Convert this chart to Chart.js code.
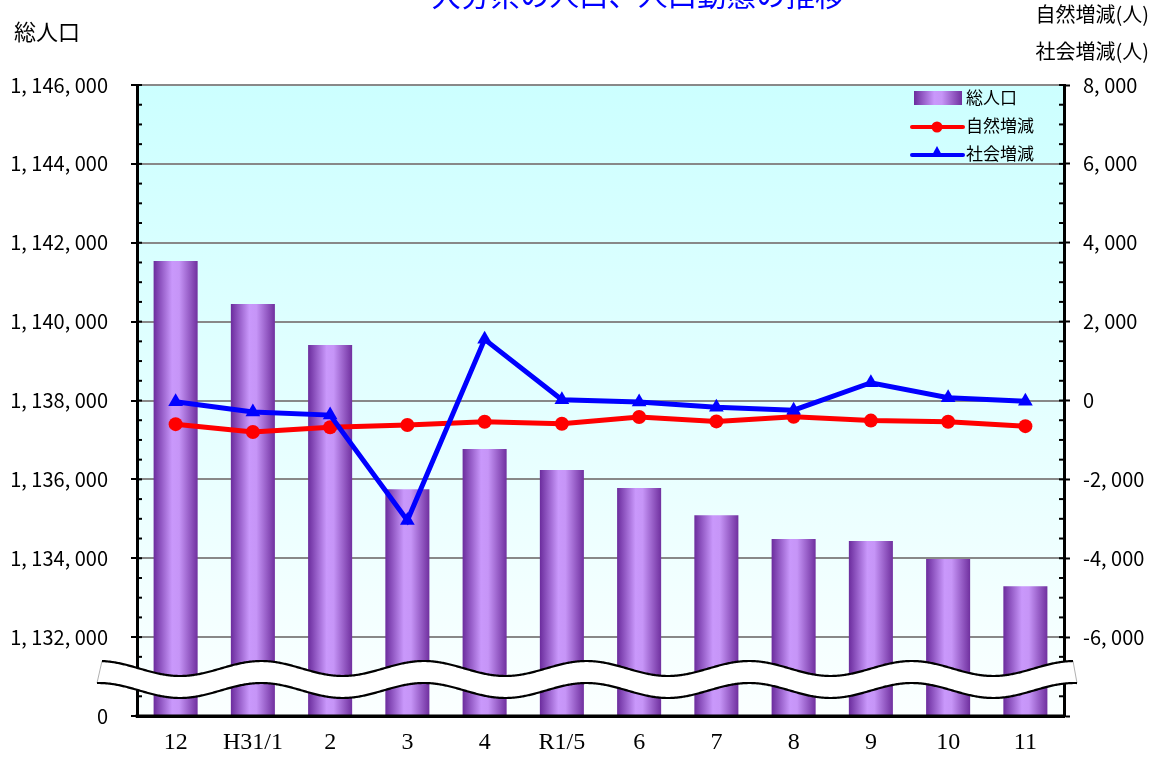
<!DOCTYPE html>
<html><head><meta charset="utf-8">
<script src="https://cdn.jsdelivr.net/npm/chart.js@4.4.1/dist/chart.umd.min.js"></script>
<style>html,body{margin:0;padding:0;background:#fff;overflow:hidden}canvas{display:block}</style>
</head><body>
<canvas id="c" width="1158" height="767"></canvas>
<script>
// ---- data ----
const categories = ['12','H31/1','2','3','4','R1/5','6','7','8','9','10','11'];
const totalPopulation = [1141540, 1140450, 1139410, 1135750, 1136770, 1136240, 1135780, 1135090, 1134490, 1134440, 1133980, 1133290];
const naturalChange = [-600, -800, -680, -620, -540, -590, -420, -530, -415, -510, -540, -650];
const socialChange = [-30, -290, -370, -3040, 1550, 20, -40, -170, -245, 450, 70, -20];
const seriesNames = ['総人口', '自然増減', '社会増減'];
const popTickValues = [1130000, 1132000, 1134000, 1136000, 1138000, 1140000, 1142000, 1144000, 1146000];
const popTickLabels = ['0', '1, 132, 000', '1, 134, 000', '1, 136, 000', '1, 138, 000', '1, 140, 000', '1, 142, 000', '1, 144, 000', '1, 146, 000'];
const changeTickValues = [-8000, -6000, -4000, -2000, 0, 2000, 4000, 6000, 8000];
const changeTickLabels = ['', '-6, 000', '-4, 000', '-2, 000', '0', '2, 000', '4, 000', '6, 000', '8, 000'];
const titleText = '大分県の人口、人口動態の推移';
const leftAxisTitle = '総人口';
const rightAxisTitles = ['自然増減(人)', '社会増減(人)'];

const JP = '"Noto Sans CJK JP", "Noto Sans", sans-serif';
const BAR_PCT = 0.57;

function barGradient(ctx, x0, x1) {
  const g = ctx.createLinearGradient(x0, 0, x1, 0);
  g.addColorStop(0, '#6b2c9d');
  g.addColorStop(0.42, '#c998fb');
  g.addColorStop(0.58, '#c695f7');
  g.addColorStop(1, '#70309f');
  return g;
}

const isMajor = (v) => Math.abs(v % 2000) < 1e-6;

const decor = {
  id: 'decor',
  beforeDraw(chart) {
    const {ctx, chartArea: a} = chart;
    const g = ctx.createLinearGradient(0, a.top, 0, a.bottom);
    g.addColorStop(0, '#ccffff');
    g.addColorStop(1, '#fbffff');
    ctx.save();
    ctx.fillStyle = g;
    ctx.fillRect(a.left, a.top, a.right - a.left, a.bottom - a.top);
    ctx.restore();
  },
  beforeDatasetsDraw(chart) {
    const {ctx, chartArea: a, scales} = chart;
    ctx.save();
    ctx.strokeStyle = '#000';
    ctx.lineWidth = 2;
    for (const t of scales.y.ticks) {
      const py = scales.y.getPixelForValue(t.value);
      ctx.beginPath(); ctx.moveTo(a.left, py); ctx.lineTo(a.left + 5, py); ctx.stroke();
    }
    for (const t of scales.y2.ticks) {
      const py = scales.y2.getPixelForValue(t.value);
      ctx.beginPath(); ctx.moveTo(a.right - 5, py); ctx.lineTo(a.right, py); ctx.stroke();
    }
    ctx.restore();
  },
  afterDatasetsDraw(chart) {
    const {ctx, chartArea: a} = chart;
    ctx.save();
    // bottom axis over bars
    ctx.strokeStyle = '#000';
    ctx.lineWidth = 3;
    ctx.beginPath(); ctx.moveTo(a.left - 1.5, a.bottom); ctx.lineTo(a.right + 1.5, a.bottom); ctx.stroke();
    // axis break band
    const up = a.bottom - 47.5, lo = a.bottom - 25.5, A = 7.5;
    const P = (a.right - a.left) / 5.7, ph = a.left + 43;
    const f = (x, c) => c + A * Math.cos(2 * Math.PI * (x - ph) / P);
    const ux0 = a.left - 35, ux1 = a.right + 9, lx0 = a.left - 40, lx1 = a.right + 13;
    ctx.beginPath();
    ctx.moveTo(ux0, f(ux0, up));
    for (let x = ux0; x <= ux1; x += 1) ctx.lineTo(x, f(x, up));
    ctx.lineTo(ux1, f(ux1, up));
    ctx.lineTo(lx1, f(lx1, lo));
    for (let x = lx1; x >= lx0; x -= 1) ctx.lineTo(x, f(x, lo));
    ctx.lineTo(lx0, f(lx0, lo));
    ctx.closePath();
    ctx.fillStyle = '#fff';
    ctx.fill();
    ctx.strokeStyle = '#b0b0b0'; ctx.lineWidth = 1;
    ctx.beginPath(); ctx.moveTo(ux0, f(ux0, up)); ctx.lineTo(lx0, f(lx0, lo)); ctx.stroke();
    ctx.beginPath(); ctx.moveTo(ux1, f(ux1, up)); ctx.lineTo(lx1, f(lx1, lo)); ctx.stroke();
    ctx.strokeStyle = '#000'; ctx.lineWidth = 2.2;
    ctx.beginPath();
    for (let x = ux0; x <= ux1; x += 1) { const y = f(x, up); x === ux0 ? ctx.moveTo(x, y) : ctx.lineTo(x, y); }
    ctx.stroke();
    ctx.beginPath();
    for (let x = lx0; x <= lx1; x += 1) { const y = f(x, lo); x === lx0 ? ctx.moveTo(x, y) : ctx.lineTo(x, y); }
    ctx.stroke();
    ctx.restore();
  },
  afterDraw(chart) {
    const {ctx, chartArea: a} = chart;
    ctx.save();
    // title (partially off the top)
    ctx.fillStyle = '#0000ff';
    ctx.font = '29.5px ' + JP;
    ctx.textAlign = 'center';
    ctx.textBaseline = 'middle';
    ctx.fillText(titleText, 638, -5);
    // axis titles
    ctx.fillStyle = '#000';
    ctx.font = '22px ' + JP;
    ctx.textAlign = 'left';
    ctx.fillText(leftAxisTitle, 14, 32);
    ctx.font = '20px ' + JP;
    ctx.textAlign = 'right';
    ctx.fillText(rightAxisTitles[0], 1149, 14);
    ctx.fillText(rightAxisTitles[1], 1149, 51);
    // legend
    const ds = chart.data.datasets;
    const lx = a.right - 152, tx = a.right - 98;
    ctx.fillStyle = barGradient(ctx, lx + 2, lx + 50);
    ctx.fillRect(lx + 2, 91, 48, 14);
    ctx.lineCap = 'round';
    ctx.lineWidth = 4;
    ctx.strokeStyle = '#ff0000';
    ctx.beginPath(); ctx.moveTo(lx, 127); ctx.lineTo(lx + 51, 127); ctx.stroke();
    ctx.fillStyle = '#ff0000';
    ctx.beginPath(); ctx.arc(lx + 25, 127, 5.5, 0, Math.PI * 2); ctx.fill();
    ctx.strokeStyle = '#0000ff';
    ctx.beginPath(); ctx.moveTo(lx, 155); ctx.lineTo(lx + 51, 155); ctx.stroke();
    ctx.fillStyle = '#0000ff';
    ctx.beginPath(); ctx.moveTo(lx + 25, 146); ctx.lineTo(lx + 31, 157); ctx.lineTo(lx + 19, 157); ctx.closePath(); ctx.fill();
    ctx.fillStyle = '#000';
    ctx.font = '17px ' + JP;
    ctx.textAlign = 'left';
    ctx.textBaseline = 'middle';
    ctx.fillText(ds[0].label, tx, 98);
    ctx.fillText(ds[1].label, tx, 126);
    ctx.fillText(ds[2].label, tx, 154);
    ctx.restore();
  }
};

const chart = new Chart(document.getElementById('c'), {
  data: {
    labels: categories,
    datasets: [
      {
        type: 'bar', label: seriesNames[0], data: totalPopulation, yAxisID: 'y', order: 3,
        barPercentage: BAR_PCT, categoryPercentage: 1,
        backgroundColor: (c) => {
          const ch = c.chart, xs = ch.scales && ch.scales.x;
          if (!ch.chartArea || !xs || c.dataIndex === undefined) return '#a066d8';
          const cx = xs.getPixelForValue(c.dataIndex);
          const w = (xs.width / categories.length) * BAR_PCT;
          return barGradient(ch.ctx, cx - w / 2, cx + w / 2);
        },
        borderWidth: 0
      },
      {
        type: 'line', label: seriesNames[1], data: naturalChange, yAxisID: 'y2', order: 2,
        borderColor: '#ff0000', backgroundColor: '#ff0000', borderWidth: 5,
        pointStyle: 'circle', pointRadius: 7, pointBorderWidth: 0, tension: 0
      },
      {
        type: 'line', label: seriesNames[2], data: socialChange, yAxisID: 'y2', order: 1,
        borderColor: '#0000ff', backgroundColor: '#0000ff', borderWidth: 5,
        pointStyle: 'triangle', pointRadius: 8.5, pointBorderWidth: 0, tension: 0
      }
    ]
  },
  options: {
    responsive: false,
    devicePixelRatio: 1,
    animation: false,
    events: [],
    layout: { padding: { top: 85, left: 0, right: 0, bottom: 0 } },
    plugins: { legend: { display: false }, title: { display: false }, tooltip: { enabled: false } },
    scales: {
      x: {
        grid: { display: false, drawTicks: false },
        border: { color: '#000', width: 3 },
        ticks: { font: { family: '"Liberation Serif", serif', size: 24 }, color: '#000', padding: 12, maxRotation: 0, autoSkip: false },
        afterFit: (s) => { s.height = 51; }
      },
      y: {
        position: 'left', min: 1130000, max: 1146000,
        ticks: {
          stepSize: 500, maxTicksLimit: 100, autoSkip: false, padding: 23, color: '#000',
          font: { family: JP, size: 20 },
          callback: (v) => { const i = popTickValues.indexOf(v); return i >= 0 ? popTickLabels[i] : ''; }
        },
        grid: {
          color: (c) => (c.tick && isMajor(c.tick.value) && c.tick.value !== 1130000) ? '#888888' : 'rgba(0,0,0,0)',
          lineWidth: 2,
          tickColor: (c) => (c.tick && isMajor(c.tick.value)) ? '#000' : 'rgba(0,0,0,0)',
          tickLength: 6, tickWidth: 2
        },
        border: { color: '#000', width: 3 },
        afterFit: (s) => { s.width = 137; }
      },
      y2: {
        position: 'right', min: -8000, max: 8000,
        ticks: {
          stepSize: 500, maxTicksLimit: 100, autoSkip: false, padding: 13, color: '#000',
          font: { family: JP, size: 20 },
          callback: (v) => { const i = changeTickValues.indexOf(v); return i >= 0 ? changeTickLabels[i] : ''; }
        },
        grid: {
          drawOnChartArea: false,
          tickColor: (c) => (c.tick && isMajor(c.tick.value)) ? '#000' : 'rgba(0,0,0,0)',
          tickLength: 6, tickWidth: 2
        },
        border: { color: '#000', width: 3 },
        afterFit: (s) => { s.width = 94; }
      }
    }
  },
  plugins: [decor]
});
</script>
</body></html>
